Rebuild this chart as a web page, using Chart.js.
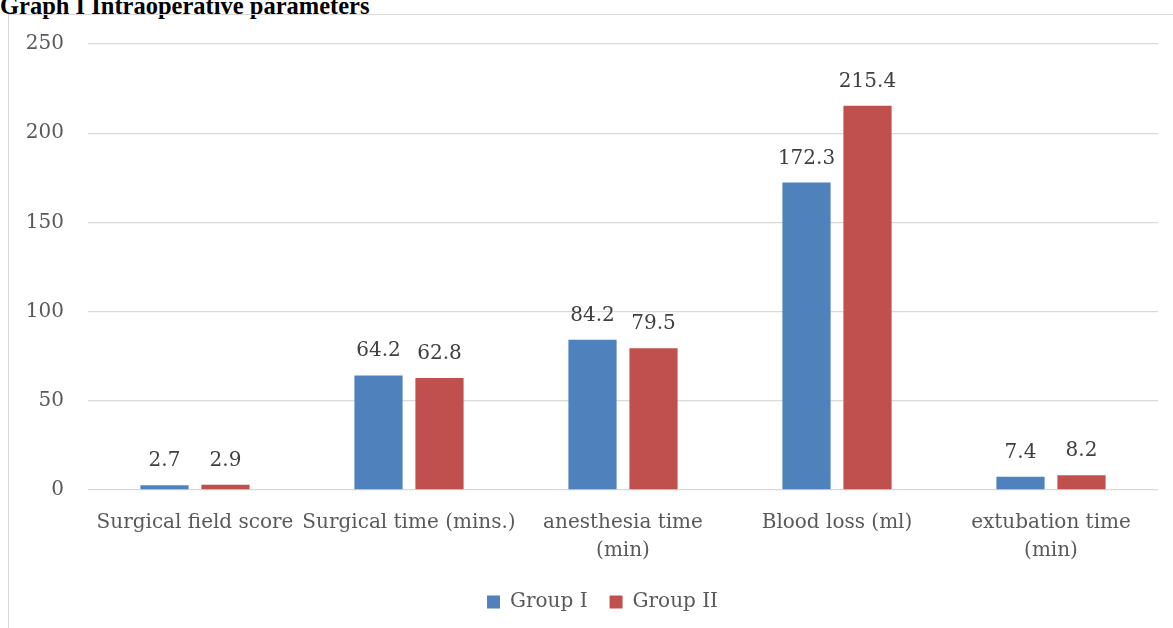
<!DOCTYPE html>
<html>
<head>
<meta charset="utf-8">
<script src="https://cdn.jsdelivr.net/npm/chart.js@4"></script>
<style>
  body { margin: 0; background: #fff; width: 1173px; height: 628px; overflow: hidden; position: relative; }
  #title {
    position: absolute; left: 0; top: -8px;
    font: bold 24.5px "Liberation Serif", serif; color: #000; white-space: nowrap;
  }
  #box {
    position: absolute; left: 8px; top: 14px; width: 1200px; height: 700px;
    border-left: 1px solid #d9d9d9; border-top: 1px solid #d9d9d9;
  }
  #wrap { position: absolute; left: 0; top: 0; width: 1164px; height: 613px; }
</style>
</head>
<body>
<div id="title">Graph I Intraoperative parameters</div>
<div id="box">
  <div id="wrap"><canvas id="chart"></canvas></div>
</div>
<script>
// categories and series values
const categories = [
  'Surgical field score',
  'Surgical time (mins.)',
  ['anesthesia time', '(min)'],
  'Blood loss (ml)',
  ['extubation time', '(min)']
];
const groupOne = [2.7, 64.2, 84.2, 172.3, 7.4];
const groupTwo = [2.9, 62.8, 79.5, 215.4, 8.2];
const yTicks = [0, 50, 100, 150, 200, 250];

const FONT = '"DejaVu Serif", serif';

// draws the value above every bar
const valueLabels = {
    id: 'valueLabels',
    afterDatasetsDraw(chart) {
        const ctx = chart.ctx;
        ctx.save();
        ctx.font = '20px ' + FONT;
        ctx.fillStyle = '#404040';
        ctx.textAlign = 'center';
        ctx.textBaseline = 'alphabetic';
        chart.data.datasets.forEach((ds, i) => {
            chart.getDatasetMeta(i).data.forEach((bar, j) => {
                ctx.fillText(ds.data[j].toFixed(1), bar.x, bar.y - 19);
            });
        });
        ctx.restore();
    }
};

// the legend in the picture sits a little right of the canvas centre
const legendShift = {
    id: 'legendShift',
    afterLayout(chart) {
        if (chart.legend) {
            chart.legend.left += 19;
            chart.legend.right += 19;
        }
    }
};

new Chart(document.getElementById('chart'), {
    type: 'bar',
    data: {
        labels: categories,
        datasets: [
            { label: 'Group I', data: groupOne, backgroundColor: '#4f81bd' },
            { label: 'Group II', data: groupTwo, backgroundColor: '#c0504d' }
        ]
    },
    options: {
        responsive: true,
        maintainAspectRatio: false,
        animation: false,
        events: [],
        layout: { padding: { top: 29, right: 15, left: 0, bottom: 6 } },
        datasets: {
            bar: { categoryPercentage: 0.57, barPercentage: 0.79 }
        },
        scales: {
            x: {
                grid: { display: false },
                border: { display: false },
                ticks: {
                    color: '#595959',
                    font: { family: FONT, size: 20, lineHeight: 1.4 },
                    padding: 11,
                    maxRotation: 0,
                    autoSkip: false
                },
                afterFit: s => { s.height = 80; s.paddingLeft = 0; s.paddingRight = 0; }
            },
            y: {
                min: 0,
                max: 250,
                afterBuildTicks: s => { s.ticks = yTicks.map(v => ({ value: v })); },
                grid: { color: '#d9d9d9', lineWidth: 1.3, drawTicks: false },
                border: { display: false },
                ticks: {
                    color: '#595959',
                    font: { family: FONT, size: 20 },
                    padding: 24
                },
                afterFit: s => { s.width = 79; s.paddingTop = 0; s.paddingBottom = 0; }
            }
        },
        plugins: {
            legend: {
                position: 'bottom',
                labels: {
                    boxWidth: 13,
                    boxHeight: 13,
                    padding: 22,
                    color: '#595959',
                    font: { family: FONT, size: 20 }
                }
            },
            tooltip: { enabled: false }
        }
    },
    plugins: [valueLabels, legendShift]
});
</script>
</body>
</html>
